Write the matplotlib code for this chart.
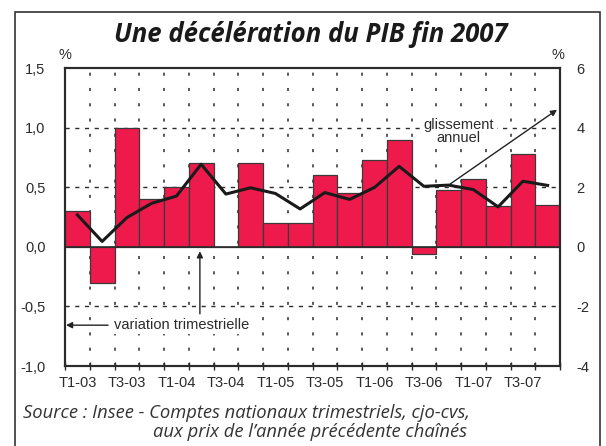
import matplotlib
matplotlib.use("Agg")
import matplotlib.pyplot as plt
import matplotlib.patches as patches
import numpy as np

# quarters T1-03 .. T4-07
trimestres = ["T1-03", "T2-03", "T3-03", "T4-03", "T1-04", "T2-04", "T3-04", "T4-04",
              "T1-05", "T2-05", "T3-05", "T4-05", "T1-06", "T2-06", "T3-06", "T4-06",
              "T1-07", "T2-07", "T3-07", "T4-07"]
# variation trimestrielle (%), left axis
var_trim = [0.3, -0.3, 1.0, 0.4, 0.5, 0.7, 0.0, 0.7, 0.2, 0.2,
            0.6, 0.45, 0.73, 0.9, -0.06, 0.48, 0.57, 0.34, 0.78, 0.35]
# glissement annuel (%), right axis
gliss = [1.07, 0.18, 0.98, 1.46, 1.7, 2.77, 1.77, 1.98, 1.79, 1.27,
         1.82, 1.59, 1.99, 2.7, 2.03, 2.07, 1.92, 1.34, 2.2, 2.06]

left_ticks = [-1.0, -0.5, 0.0, 0.5, 1.0, 1.5]
left_labels = ["-1,0", "-0,5", "0,0", "0,5", "1,0", "1,5"]
right_ticks = [-4, -2, 0, 2, 4, 6]

red = "#ED1A4B"
dark = "#2b2b2b"
plt.rcParams["font.family"] = ["Liberation Sans", "DejaVu Sans"]
plt.rcParams["axes.unicode_minus"] = False

fig = plt.figure(figsize=(6.06, 4.46), dpi=100)
ax = fig.add_axes([65/606, 1-366/446, 495/606, 298/446])

x = np.arange(len(trimestres))

# grid (behind bars)
for y in [-0.5, 0.5, 1.0]:
    ax.axhline(y, color=dark, lw=1, dashes=(3, 4), zorder=0)
for e in x[:-1] + 0.5:
    ax.axvline(e, color=dark, lw=1.1, dashes=(2, 8), zorder=0)

ax.bar(x, var_trim, width=1.0, color=red, edgecolor="#3a3a3a", linewidth=0.9, zorder=2)
ax.axhline(0, color=dark, lw=1.2, zorder=3)

ax.set_xlim(-0.5, len(x) - 0.5)
ax.set_ylim(-1.0, 1.5)
ax.set_yticks(left_ticks, left_labels)
ax.set_xticks(x[::2], trimestres[::2])
ax.set_xticks(np.arange(-0.5, len(x), 1.0), minor=True)
ax.tick_params(axis="x", which="major", length=0, pad=7, labelsize=10.5, colors=dark)
ax.tick_params(axis="x", which="minor", length=6, direction="inout", width=1, color=dark)
ax.tick_params(axis="y", length=0, pad=14, labelsize=10.5, colors=dark)
for s in ax.spines.values():
    s.set_color(dark)
    s.set_linewidth(1.5)

ax2 = ax.twinx()
ax2.plot(x, gliss, color="#1a1a1a", lw=2.2, zorder=5)
ax2.set_ylim(-4, 6)
ax2.set_yticks(right_ticks)
ax2.tick_params(axis="y", length=0, pad=12, labelsize=10.5, colors=dark)
for s in ax2.spines.values():
    s.set_color(dark)
    s.set_linewidth(1.5)

# annotations
arr = dict(arrowstyle="-|>", color="#222222", lw=1, mutation_scale=9, shrinkA=0, shrinkB=0)
ax2.annotate("", xy=(19.38, 4.6), xytext=(15.05, 2.1), arrowprops=arr, zorder=6)
ax2.text(15.4, 3.87, "glissement\nannuel", ha="center", va="center", fontsize=10.5,
         color=dark, linespacing=0.95, zorder=6,
         bbox=dict(facecolor="white", edgecolor="none", pad=2))
ax2.annotate("", xy=(-0.46, -2.63), xytext=(1.24, -2.63), arrowprops=arr, zorder=6)
ax2.text(1.48, -2.63, "variation trimestrielle", ha="left", va="center", fontsize=10.5,
         color=dark, zorder=6, bbox=dict(facecolor="white", edgecolor="none", pad=1))
ax2.annotate("", xy=(4.95, -0.15), xytext=(4.95, -2.25), arrowprops=arr, zorder=6)

fig.text(65/606, 1-55/446, "%", ha="center", va="center", fontsize=10.5, color=dark)
fig.text(558/606, 1-55/446, "%", ha="center", va="center", fontsize=10.5, color=dark)

fig.text(311/606, 1-35/446, "Une décélération du PIB fin 2007", ha="center", va="center",
         fontsize=18.5, fontweight="bold", fontstyle="italic", family="Open Sans",
         color="#1a1a1a")

fig.text(23/606, 1-413/446, "Source : Insee - Comptes nationaux trimestriels, cjo-cvs,",
         ha="left", va="center", fontsize=13.2, fontstyle="italic", family="Open Sans",
         color="#333333")
fig.text(467/606, 1-432/446, "aux prix de l\u2019année précédente chaînés",
         ha="right", va="center", fontsize=13.2, fontstyle="italic", family="Open Sans",
         color="#333333")

frame = patches.Rectangle((15/606, -0.05), 585/606, 1.05 - 12/446, transform=fig.transFigure,
                          fill=False, edgecolor="#333333", lw=1.2, clip_on=False)
fig.patches.append(frame)

fig.savefig("out.png", dpi=100)
